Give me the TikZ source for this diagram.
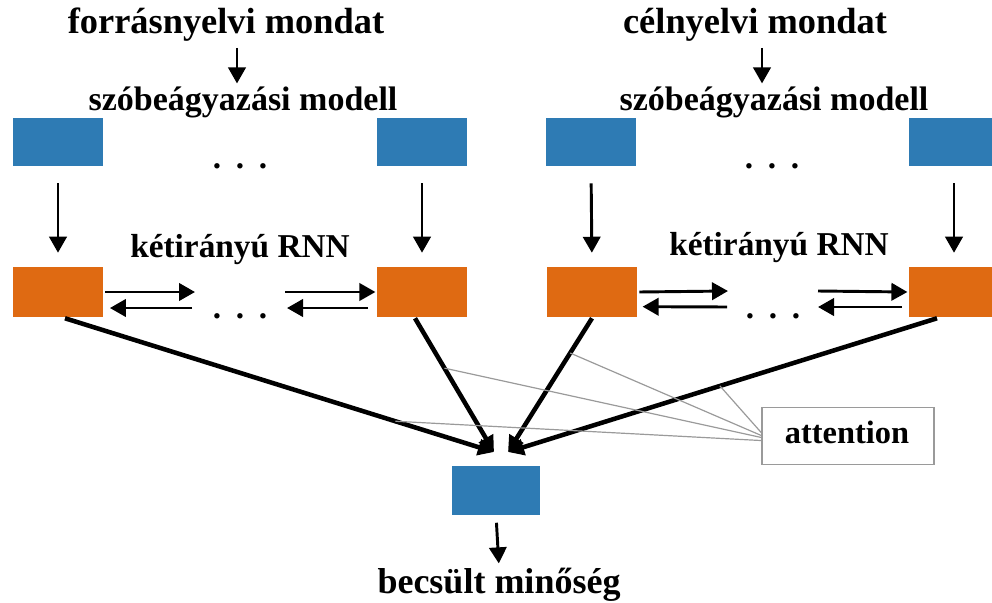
\documentclass[tikz,border=0pt]{standalone}
\usepackage{fontspec}
\setmainfont{Liberation Serif}
\usetikzlibrary{arrows.meta,calc}
\definecolor{boxblue}{HTML}{2E7BB4}
\definecolor{boxorange}{HTML}{DF6A12}
\definecolor{attgray}{HTML}{9A9A9A}
\begin{document}
\begin{tikzpicture}[x=0.75pt,y=-0.75pt,
  bluebox/.style={fill=boxblue,minimum width=67.5pt,minimum height=36pt,inner sep=0pt,draw=none},
  orangebox/.style={fill=boxorange,minimum width=67.5pt,minimum height=37.5pt,inner sep=0pt,draw=none},
  titletext/.style={font=\fontsize{27.3pt}{32pt}\selectfont\bfseries,inner sep=0pt},
  labeltext/.style={font=\fontsize{25.5pt}{30pt}\selectfont\bfseries,inner sep=0pt},
  dotstext/.style={font=\fontsize{25pt}{30pt}\selectfont\bfseries,inner sep=0pt},
  arr/.style={line width=2.2pt,-{Triangle[length=12pt,width=13pt]}},
  thickarr/.style={line width=3.4pt,-{Triangle[length=12pt,width=12pt]}},
  attline/.style={draw=attgray,line width=0.9pt},
  attbox/.style={draw=attgray,line width=1.2pt,fill=white,minimum width=129pt,minimum height=42.75pt,inner sep=0pt}
]
\useasboundingbox (0,0) rectangle (992,603);
\clip (0,0) rectangle (992,603);

% titles
\node[titletext,anchor=base] (src) at (226,33) {forrásnyelvi mondat};
\node[titletext,anchor=base] (tgt) at (755,33) {célnyelvi mondat};
\node[labeltext,anchor=base] (embl) at (243,110) {szóbeágyazási modell};
\node[labeltext,anchor=base] (embr) at (774,110) {szóbeágyazási modell};

\draw[arr,shorten <=5pt,shorten >=2pt] ([xshift=8.25pt]src.south) -- ([xshift=-4.5pt]embl.north);
\draw[arr,shorten <=5pt,shorten >=2pt] ([xshift=5.25pt]tgt.south) -- ([xshift=-9pt]embr.north);

% embedding boxes
\node[bluebox] (b1) at (58,142) {};
\node[bluebox] (b2) at (422,142) {};
\node[bluebox] (b3) at (591,142) {};
\node[bluebox] (b4) at (954,142) {};
\node[dotstext,anchor=base] (dl) at (240,168) {.\hskip 11pt.\hskip 11pt.};
\node[dotstext,anchor=base] (dr) at (772,168) {.\hskip 11pt.\hskip 11pt.};

% RNN boxes
\node[orangebox] (o1) at (58,292) {};
\node[orangebox] (o2) at (422,292) {};
\node[orangebox] (o3) at (592,292) {};
\node[orangebox] (o4) at (954,292) {};
\node[labeltext,font=\fontsize{25pt}{30pt}\selectfont\bfseries,anchor=base] (rnnl) at (240,257) {kétirányú RNN};
\node[labeltext,font=\fontsize{25pt}{30pt}\selectfont\bfseries,anchor=base] (rnnr) at (779,255) {kétirányú RNN};
\node[dotstext,anchor=base] (rl) at (240,318) {.\hskip 11pt.\hskip 11pt.};
\node[dotstext,anchor=base] (rr) at (773,318) {.\hskip 11pt.\hskip 11pt.};

% vertical arrows
\foreach \i in {1,2,3,4}{
  \draw[arr,shorten <=12.75pt,shorten >=10.5pt] (b\i.south) -- (o\i.north);
}

% horizontal arrows (free ends near the dots)
\coordinate (h1f) at (195,292);
\coordinate (h1b) at (192,308);
\coordinate (h2f) at (285,292);
\coordinate (h2b) at (368,308);
\coordinate (h3f) at (728,291);
\coordinate (h3b) at (727,307);
\coordinate (h4f) at (818,291);
\coordinate (h4b) at (902,307);
\draw[arr] ([xshift=1.5pt]o1.east) -- (h1f);
\draw[arr] (h1b) -- ([xshift=5pt,yshift=-12pt]o1.east);
\draw[arr] (h2f) -- ([xshift=-1pt]o2.west);
\draw[arr] (h2b) -- (h2b -| 287,0);
\draw[arr] ([xshift=1.5pt]o3.east) -- (h3f);
\draw[arr] (h3b) -- ([xshift=4pt,yshift=-11pt]o3.east);
\draw[arr] (h4f) -- ([xshift=-1pt]o4.west);
\draw[arr] (h4b) -- (h4b -| 818,0);

% output
\node[bluebox,minimum width=66pt,minimum height=36.75pt] (out) at (496,490) {};
\node[titletext,font=\fontsize{27pt}{32pt}\selectfont\bfseries,anchor=base] (res) at (499,593) {becsült minőség};
\draw[arr,shorten <=6pt,shorten >=3pt] (out.south) -- (res.north);

% thick arrows to output
\coordinate (tl) at (494,452);
\coordinate (tr) at (508,452);
\draw[thickarr] ($(o1.south)+(7,1)$) -- coordinate[pos=0.77] (a1) (tl);
\draw[thickarr] ($(o2.south)+(-7,1)$) -- coordinate[pos=0.373] (a2) (tl);
\draw[thickarr] ($(o3.south)+(0,1)$) -- coordinate[pos=0.26] (a3) (tr);
\draw[thickarr] ($(o4.south)+(-17,1)$) -- coordinate[pos=0.506] (a4) (tr);

% attention
\node[attbox] (att) at (848,436) {};
\node[labeltext,font=\fontsize{24.3pt}{30pt}\selectfont\bfseries,anchor=base] (attt) at (847,443) {attention};
\draw[attline] (a1) -- ([yshift=-3.4pt]att.west);
\draw[attline] (a2) -- ([yshift=-1.1pt]att.west);
\draw[attline] (a3) -- ([yshift=0.4pt]att.west);
\draw[attline] (a4) -- ([yshift=2.6pt]att.west);
\end{tikzpicture}
\end{document}
